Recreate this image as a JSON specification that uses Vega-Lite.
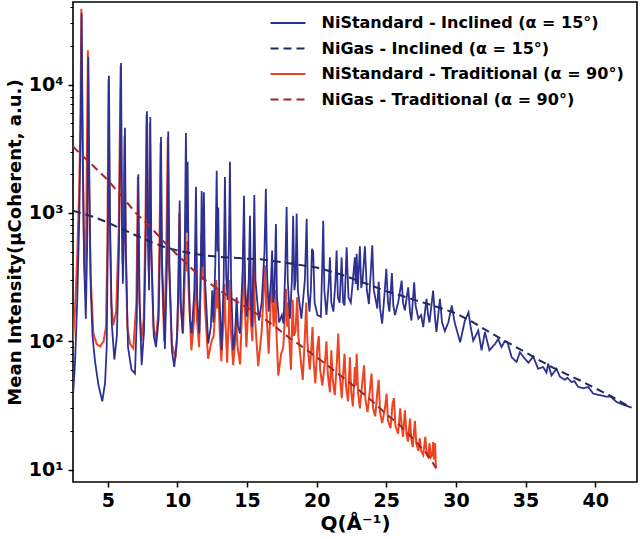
{
"$schema":"https://vega.github.io/schema/vega-lite/v6.json",
"width":564,"height":480,"autosize":"none",
"padding":{"left":73,"top":2,"right":3,"bottom":57},
"background":"white",
"config":{
"view":{"stroke":"black","strokeWidth":1.6},
"font":"DejaVu Sans",
"axis":{"grid":false,"domain":false,"tickColor":"black","labelColor":"black","titleColor":"black","labelFont":"DejaVu Sans","labelFontWeight":"bold","labelFontSize":19,"titleFont":"DejaVu Sans","titleFontWeight":"bold","titleFontSize":19},
"legend":{"orient":"none","legendX":207,"legendY":13,"padding":0,"symbolSize":100,"symbolStrokeWidth":2,"labelFont":"DejaVu Sans","labelFontSize":16,"labelFontWeight":"bold","labelColor":"black","labelOffset":25.5,"rowPadding":9.5,"labelLimit":500}
},
"datasets":{"main":[
{"s":"a","q":2.5,"v":37},{"s":"a","q":2.65,"v":70},{"s":"a","q":2.8,"v":200},{"s":"a","q":2.95,"v":900},{"s":"a","q":3.05,"v":5000},{"s":"a","q":3.12,"v":36000},{"s":"a","q":3.2,"v":3000},{"s":"a","q":3.3,"v":400},{"s":"a","q":3.42,"v":150},{"s":"a","q":3.52,"v":600},{"s":"a","q":3.6,"v":16500},{"s":"a","q":3.68,"v":1500},{"s":"a","q":3.78,"v":250},{"s":"a","q":3.9,"v":110},{"s":"a","q":4.08,"v":70},{"s":"a","q":4.32,"v":46},{"s":"a","q":4.6,"v":34},{"s":"a","q":4.8,"v":47},{"s":"a","q":4.92,"v":90},{"s":"a","q":5.0,"v":600},{"s":"a","q":5.08,"v":11700},{"s":"a","q":5.16,"v":900},{"s":"a","q":5.28,"v":140},{"s":"a","q":5.47,"v":72},{"s":"a","q":5.65,"v":110},{"s":"a","q":5.8,"v":500},{"s":"a","q":5.95,"v":14700},{"s":"a","q":6.02,"v":900},{"s":"a","q":6.08,"v":280},{"s":"a","q":6.15,"v":600},{"s":"a","q":6.23,"v":4600},{"s":"a","q":6.3,"v":500},{"s":"a","q":6.45,"v":90},{"s":"a","q":6.7,"v":60},{"s":"a","q":6.95,"v":56},{"s":"a","q":7.08,"v":150},{"s":"a","q":7.19,"v":2000},{"s":"a","q":7.28,"v":200},{"s":"a","q":7.43,"v":65},{"s":"a","q":7.6,"v":120},{"s":"a","q":7.73,"v":700},{"s":"a","q":7.81,"v":6200},{"s":"a","q":7.9,"v":600},{"s":"a","q":7.96,"v":250},{"s":"a","q":8.0,"v":600},{"s":"a","q":8.05,"v":5600},{"s":"a","q":8.13,"v":500},{"s":"a","q":8.3,"v":110},{"s":"a","q":8.46,"v":90},{"s":"a","q":8.65,"v":150},{"s":"a","q":8.75,"v":600},{"s":"a","q":8.82,"v":3900},{"s":"a","q":8.9,"v":400},{"s":"a","q":9.1,"v":87},{"s":"a","q":9.25,"v":400},{"s":"a","q":9.34,"v":4300},{"s":"a","q":9.42,"v":400},{"s":"a","q":9.6,"v":85},{"s":"a","q":9.77,"v":63},{"s":"a","q":9.95,"v":100},{"s":"a","q":10.08,"v":300},{"s":"a","q":10.16,"v":1250},{"s":"a","q":10.24,"v":200},{"s":"a","q":10.37,"v":115},{"s":"a","q":10.52,"v":500},{"s":"a","q":10.61,"v":4200},{"s":"a","q":10.67,"v":700},{"s":"a","q":10.73,"v":2500},{"s":"a","q":10.8,"v":400},{"s":"a","q":10.9,"v":150},{"s":"a","q":11.02,"v":115},{"s":"a","q":11.22,"v":250},{"s":"a","q":11.33,"v":1600},{"s":"a","q":11.42,"v":220},{"s":"a","q":11.57,"v":115},{"s":"a","q":11.68,"v":400},{"s":"a","q":11.74,"v":1480},{"s":"a","q":11.8,"v":380},{"s":"a","q":11.86,"v":600},{"s":"a","q":11.9,"v":1450},{"s":"a","q":11.98,"v":300},{"s":"a","q":12.21,"v":96},{"s":"a","q":12.4,"v":130},{"s":"a","q":12.5,"v":250},{"s":"a","q":12.58,"v":140},{"s":"a","q":12.72,"v":400},{"s":"a","q":12.82,"v":2130},{"s":"a","q":12.88,"v":500},{"s":"a","q":12.93,"v":1100},{"s":"a","q":13.0,"v":250},{"s":"a","q":13.17,"v":85},{"s":"a","q":13.32,"v":300},{"s":"a","q":13.41,"v":1900},{"s":"a","q":13.5,"v":320},{"s":"a","q":13.6,"v":210},{"s":"a","q":13.7,"v":600},{"s":"a","q":13.77,"v":2500},{"s":"a","q":13.85,"v":300},{"s":"a","q":14.0,"v":85},{"s":"a","q":14.15,"v":120},{"s":"a","q":14.25,"v":220},{"s":"a","q":14.35,"v":130},{"s":"a","q":14.49,"v":115},{"s":"a","q":14.68,"v":350},{"s":"a","q":14.78,"v":1360},{"s":"a","q":14.86,"v":280},{"s":"a","q":14.97,"v":155},{"s":"a","q":15.12,"v":300},{"s":"a","q":15.21,"v":950},{"s":"a","q":15.29,"v":200},{"s":"a","q":15.37,"v":130},{"s":"a","q":15.45,"v":400},{"s":"a","q":15.52,"v":1380},{"s":"a","q":15.6,"v":300},{"s":"a","q":15.85,"v":145},{"s":"a","q":16.05,"v":200},{"s":"a","q":16.25,"v":500},{"s":"a","q":16.35,"v":1540},{"s":"a","q":16.43,"v":350},{"s":"a","q":16.55,"v":170},{"s":"a","q":16.72,"v":300},{"s":"a","q":16.8,"v":510},{"s":"a","q":16.88,"v":200},{"s":"a","q":16.97,"v":250},{"s":"a","q":17.07,"v":820},{"s":"a","q":17.15,"v":220},{"s":"a","q":17.3,"v":140},{"s":"a","q":17.5,"v":160},{"s":"a","q":17.62,"v":137},{"s":"a","q":17.75,"v":400},{"s":"a","q":17.84,"v":1110},{"s":"a","q":17.92,"v":300},{"s":"a","q":18.08,"v":150},{"s":"a","q":18.22,"v":300},{"s":"a","q":18.31,"v":950},{"s":"a","q":18.4,"v":250},{"s":"a","q":18.48,"v":300},{"s":"a","q":18.56,"v":990},{"s":"a","q":18.65,"v":250},{"s":"a","q":18.9,"v":150},{"s":"a","q":19.15,"v":300},{"s":"a","q":19.28,"v":900},{"s":"a","q":19.36,"v":250},{"s":"a","q":19.48,"v":170},{"s":"a","q":19.58,"v":250},{"s":"a","q":19.66,"v":525},{"s":"a","q":19.75,"v":500},{"s":"a","q":19.85,"v":200},{"s":"a","q":20.05,"v":160},{"s":"a","q":20.3,"v":155},{"s":"a","q":20.4,"v":400},{"s":"a","q":20.47,"v":870},{"s":"a","q":20.55,"v":250},{"s":"a","q":20.7,"v":160},{"s":"a","q":20.88,"v":300},{"s":"a","q":20.95,"v":450},{"s":"a","q":21.05,"v":200},{"s":"a","q":21.2,"v":170},{"s":"a","q":21.35,"v":300},{"s":"a","q":21.43,"v":510},{"s":"a","q":21.52,"v":220},{"s":"a","q":21.65,"v":200},{"s":"a","q":21.79,"v":450},{"s":"a","q":21.9,"v":200},{"s":"a","q":22.0,"v":190},{"s":"a","q":22.15,"v":540},{"s":"a","q":22.28,"v":220},{"s":"a","q":22.45,"v":200},{"s":"a","q":22.6,"v":300},{"s":"a","q":22.74,"v":450},{"s":"a","q":22.8,"v":280},{"s":"a","q":22.87,"v":480},{"s":"a","q":22.95,"v":250},{"s":"a","q":23.1,"v":550},{"s":"a","q":23.2,"v":260},{"s":"a","q":23.3,"v":300},{"s":"a","q":23.46,"v":550},{"s":"a","q":23.6,"v":250},{"s":"a","q":23.75,"v":195},{"s":"a","q":23.99,"v":560},{"s":"a","q":24.1,"v":250},{"s":"a","q":24.2,"v":220},{"s":"a","q":24.35,"v":180},{"s":"a","q":24.45,"v":290},{"s":"a","q":24.55,"v":180},{"s":"a","q":24.7,"v":137},{"s":"a","q":24.85,"v":220},{"s":"a","q":25.0,"v":366},{"s":"a","q":25.12,"v":200},{"s":"a","q":25.22,"v":170},{"s":"a","q":25.4,"v":340},{"s":"a","q":25.5,"v":190},{"s":"a","q":25.62,"v":160},{"s":"a","q":25.85,"v":200},{"s":"a","q":26.1,"v":297},{"s":"a","q":26.2,"v":200},{"s":"a","q":26.33,"v":174},{"s":"a","q":26.57,"v":263},{"s":"a","q":26.7,"v":170},{"s":"a","q":26.8,"v":145},{"s":"a","q":27.0,"v":288},{"s":"a","q":27.1,"v":190},{"s":"a","q":27.3,"v":150},{"s":"a","q":27.5,"v":160},{"s":"a","q":27.65,"v":129},{"s":"a","q":27.88,"v":214},{"s":"a","q":28.0,"v":160},{"s":"a","q":28.1,"v":140},{"s":"a","q":28.36,"v":248},{"s":"a","q":28.5,"v":150},{"s":"a","q":28.6,"v":118},{"s":"a","q":28.85,"v":214},{"s":"a","q":29.0,"v":140},{"s":"a","q":29.2,"v":120},{"s":"a","q":29.45,"v":140},{"s":"a","q":29.7,"v":190},{"s":"a","q":29.9,"v":141},{"s":"a","q":30.3,"v":98},{"s":"a","q":30.64,"v":145},{"s":"a","q":30.9,"v":168},{"s":"a","q":31.05,"v":130},{"s":"a","q":31.24,"v":101},{"s":"a","q":31.6,"v":121},{"s":"a","q":31.84,"v":85},{"s":"a","q":32.08,"v":118},{"s":"a","q":32.4,"v":85},{"s":"a","q":32.8,"v":95},{"s":"a","q":33.03,"v":104},{"s":"a","q":33.27,"v":90},{"s":"a","q":33.5,"v":100},{"s":"a","q":33.7,"v":98},{"s":"a","q":34.0,"v":75},{"s":"a","q":34.35,"v":69},{"s":"a","q":34.59,"v":82},{"s":"a","q":34.95,"v":73},{"s":"a","q":35.2,"v":68},{"s":"a","q":35.55,"v":76},{"s":"a","q":35.9,"v":61},{"s":"a","q":36.26,"v":63},{"s":"a","q":36.5,"v":57},{"s":"a","q":36.62,"v":67},{"s":"a","q":36.86,"v":54},{"s":"a","q":37.22,"v":61},{"s":"a","q":37.46,"v":53},{"s":"a","q":37.82,"v":50},{"s":"a","q":38.0,"v":52},{"s":"a","q":38.3,"v":48},{"s":"a","q":38.5,"v":49},{"s":"a","q":38.78,"v":44},{"s":"a","q":39.14,"v":43},{"s":"a","q":39.5,"v":44},{"s":"a","q":39.86,"v":39},{"s":"a","q":40.34,"v":38},{"s":"a","q":40.82,"v":37},{"s":"a","q":41.1,"v":37},{"s":"a","q":41.54,"v":33.6},{"s":"a","q":42.02,"v":32},{"s":"a","q":42.6,"v":30.4},
{"s":"c","q":2.5,"v":100},{"s":"c","q":2.65,"v":180},{"s":"c","q":2.8,"v":450},{"s":"c","q":2.95,"v":1600},{"s":"c","q":3.04,"v":6000},{"s":"c","q":3.1,"v":39000},{"s":"c","q":3.18,"v":4000},{"s":"c","q":3.27,"v":700},{"s":"c","q":3.36,"v":320},{"s":"c","q":3.45,"v":800},{"s":"c","q":3.57,"v":18500},{"s":"c","q":3.65,"v":2000},{"s":"c","q":3.75,"v":350},{"s":"c","q":3.96,"v":115},{"s":"c","q":4.2,"v":95},{"s":"c","q":4.44,"v":91},{"s":"c","q":4.7,"v":100},{"s":"c","q":4.87,"v":130},{"s":"c","q":4.97,"v":600},{"s":"c","q":5.05,"v":11000},{"s":"c","q":5.12,"v":1000},{"s":"c","q":5.25,"v":200},{"s":"c","q":5.39,"v":133},{"s":"c","q":5.6,"v":170},{"s":"c","q":5.78,"v":700},{"s":"c","q":5.92,"v":14000},{"s":"c","q":5.99,"v":1200},{"s":"c","q":6.06,"v":400},{"s":"c","q":6.12,"v":700},{"s":"c","q":6.2,"v":4000},{"s":"c","q":6.27,"v":600},{"s":"c","q":6.4,"v":130},{"s":"c","q":6.6,"v":95},{"s":"c","q":6.83,"v":88},{"s":"c","q":7.05,"v":200},{"s":"c","q":7.16,"v":1900},{"s":"c","q":7.25,"v":250},{"s":"c","q":7.4,"v":100},{"s":"c","q":7.58,"v":150},{"s":"c","q":7.7,"v":800},{"s":"c","q":7.78,"v":5800},{"s":"c","q":7.87,"v":700},{"s":"c","q":7.94,"v":350},{"s":"c","q":7.98,"v":700},{"s":"c","q":8.02,"v":5000},{"s":"c","q":8.1,"v":600},{"s":"c","q":8.28,"v":130},{"s":"c","q":8.46,"v":100},{"s":"c","q":8.62,"v":170},{"s":"c","q":8.72,"v":700},{"s":"c","q":8.79,"v":3500},{"s":"c","q":8.87,"v":400},{"s":"c","q":9.05,"v":100},{"s":"c","q":9.2,"v":500},{"s":"c","q":9.31,"v":3900},{"s":"c","q":9.39,"v":400},{"s":"c","q":9.6,"v":95},{"s":"c","q":9.87,"v":74},{"s":"c","q":10.02,"v":130},{"s":"c","q":10.13,"v":1000},{"s":"c","q":10.21,"v":200},{"s":"c","q":10.4,"v":115},{"s":"c","q":10.52,"v":300},{"s":"c","q":10.58,"v":700},{"s":"c","q":10.65,"v":350},{"s":"c","q":10.72,"v":600},{"s":"c","q":10.8,"v":250},{"s":"c","q":11.0,"v":85},{"s":"c","q":11.2,"v":150},{"s":"c","q":11.3,"v":500},{"s":"c","q":11.4,"v":150},{"s":"c","q":11.55,"v":90},{"s":"c","q":11.66,"v":250},{"s":"c","q":11.72,"v":700},{"s":"c","q":11.8,"v":300},{"s":"c","q":11.88,"v":600},{"s":"c","q":11.96,"v":200},{"s":"c","q":12.2,"v":73},{"s":"c","q":12.45,"v":100},{"s":"c","q":12.6,"v":110},{"s":"c","q":12.72,"v":180},{"s":"c","q":12.79,"v":300},{"s":"c","q":12.86,"v":180},{"s":"c","q":12.95,"v":260},{"s":"c","q":13.03,"v":120},{"s":"c","q":13.15,"v":70},{"s":"c","q":13.3,"v":140},{"s":"c","q":13.38,"v":280},{"s":"c","q":13.46,"v":130},{"s":"c","q":13.57,"v":68},{"s":"c","q":13.68,"v":150},{"s":"c","q":13.74,"v":300},{"s":"c","q":13.82,"v":130},{"s":"c","q":14.0,"v":65},{"s":"c","q":14.15,"v":100},{"s":"c","q":14.22,"v":150},{"s":"c","q":14.32,"v":90},{"s":"c","q":14.5,"v":66},{"s":"c","q":14.66,"v":200},{"s":"c","q":14.75,"v":600},{"s":"c","q":14.83,"v":200},{"s":"c","q":14.95,"v":90},{"s":"c","q":15.1,"v":200},{"s":"c","q":15.18,"v":400},{"s":"c","q":15.26,"v":150},{"s":"c","q":15.38,"v":100},{"s":"c","q":15.45,"v":250},{"s":"c","q":15.49,"v":450},{"s":"c","q":15.57,"v":150},{"s":"c","q":15.8,"v":64},{"s":"c","q":16.05,"v":120},{"s":"c","q":16.2,"v":250},{"s":"c","q":16.3,"v":390},{"s":"c","q":16.38,"v":180},{"s":"c","q":16.55,"v":80},{"s":"c","q":16.7,"v":200},{"s":"c","q":16.8,"v":300},{"s":"c","q":16.9,"v":130},{"s":"c","q":16.98,"v":160},{"s":"c","q":17.04,"v":250},{"s":"c","q":17.12,"v":110},{"s":"c","q":17.24,"v":54},{"s":"c","q":17.45,"v":80},{"s":"c","q":17.6,"v":90},{"s":"c","q":17.72,"v":160},{"s":"c","q":17.8,"v":256},{"s":"c","q":17.88,"v":130},{"s":"c","q":17.95,"v":200},{"s":"c","q":18.02,"v":110},{"s":"c","q":18.15,"v":60},{"s":"c","q":18.22,"v":120},{"s":"c","q":18.28,"v":210},{"s":"c","q":18.36,"v":110},{"s":"c","q":18.48,"v":120},{"s":"c","q":18.6,"v":220},{"s":"c","q":18.68,"v":110},{"s":"c","q":19.0,"v":50},{"s":"c","q":19.15,"v":110},{"s":"c","q":19.25,"v":200},{"s":"c","q":19.33,"v":100},{"s":"c","q":19.5,"v":60},{"s":"c","q":19.62,"v":90},{"s":"c","q":19.7,"v":129},{"s":"c","q":19.78,"v":70},{"s":"c","q":19.9,"v":47},{"s":"c","q":20.05,"v":90},{"s":"c","q":20.15,"v":110},{"s":"c","q":20.25,"v":60},{"s":"c","q":20.4,"v":45},{"s":"c","q":20.6,"v":70},{"s":"c","q":20.7,"v":100},{"s":"c","q":20.8,"v":55},{"s":"c","q":20.95,"v":40},{"s":"c","q":21.05,"v":85},{"s":"c","q":21.15,"v":50},{"s":"c","q":21.3,"v":38},{"s":"c","q":21.45,"v":70},{"s":"c","q":21.55,"v":115},{"s":"c","q":21.65,"v":55},{"s":"c","q":21.8,"v":36},{"s":"c","q":21.92,"v":60},{"s":"c","q":22.0,"v":80},{"s":"c","q":22.1,"v":45},{"s":"c","q":22.25,"v":34},{"s":"c","q":22.38,"v":75},{"s":"c","q":22.48,"v":40},{"s":"c","q":22.6,"v":31},{"s":"c","q":22.74,"v":63},{"s":"c","q":22.8,"v":45},{"s":"c","q":22.87,"v":80},{"s":"c","q":22.97,"v":40},{"s":"c","q":23.1,"v":30},{"s":"c","q":23.25,"v":45},{"s":"c","q":23.4,"v":65},{"s":"c","q":23.5,"v":35},{"s":"c","q":23.65,"v":28},{"s":"c","q":23.8,"v":40},{"s":"c","q":23.94,"v":56},{"s":"c","q":24.05,"v":30},{"s":"c","q":24.2,"v":26},{"s":"c","q":24.35,"v":40},{"s":"c","q":24.45,"v":50},{"s":"c","q":24.55,"v":28},{"s":"c","q":24.7,"v":23},{"s":"c","q":24.9,"v":30},{"s":"c","q":25.02,"v":39},{"s":"c","q":25.12,"v":24},{"s":"c","q":25.3,"v":21},{"s":"c","q":25.45,"v":33},{"s":"c","q":25.55,"v":36},{"s":"c","q":25.65,"v":22},{"s":"c","q":25.85,"v":19},{"s":"c","q":26.0,"v":30},{"s":"c","q":26.1,"v":22},{"s":"c","q":26.2,"v":18},{"s":"c","q":26.33,"v":29},{"s":"c","q":26.45,"v":19},{"s":"c","q":26.55,"v":16.5},{"s":"c","q":26.7,"v":25},{"s":"c","q":26.8,"v":17},{"s":"c","q":26.9,"v":15},{"s":"c","q":27.05,"v":24},{"s":"c","q":27.15,"v":16},{"s":"c","q":27.3,"v":14},{"s":"c","q":27.4,"v":17.5},{"s":"c","q":27.5,"v":14},{"s":"c","q":27.65,"v":13},{"s":"c","q":27.8,"v":18},{"s":"c","q":27.9,"v":13},{"s":"c","q":28.0,"v":12.5},{"s":"c","q":28.1,"v":16},{"s":"c","q":28.2,"v":12.5},{"s":"c","q":28.3,"v":13},{"s":"c","q":28.36,"v":16.4},{"s":"c","q":28.42,"v":12},{"s":"c","q":28.5,"v":16},{"s":"c","q":28.56,"v":10.2},
{"s":"b","q":2.5,"v":1040},{"s":"b","q":3,"v":1000},{"s":"b","q":4,"v":930},{"s":"b","q":5,"v":840},{"s":"b","q":6,"v":750},{"s":"b","q":7,"v":670},{"s":"b","q":8,"v":600},{"s":"b","q":9,"v":545},{"s":"b","q":10,"v":510},{"s":"b","q":11,"v":485},{"s":"b","q":12,"v":465},{"s":"b","q":13,"v":455},{"s":"b","q":14,"v":447},{"s":"b","q":15,"v":440},{"s":"b","q":16,"v":435},{"s":"b","q":17,"v":420},{"s":"b","q":18,"v":405},{"s":"b","q":19,"v":390},{"s":"b","q":20,"v":375},{"s":"b","q":21,"v":350},{"s":"b","q":22,"v":325},{"s":"b","q":23,"v":295},{"s":"b","q":24,"v":270},{"s":"b","q":25,"v":245},{"s":"b","q":26,"v":228},{"s":"b","q":27,"v":210},{"s":"b","q":28,"v":195},{"s":"b","q":29,"v":180},{"s":"b","q":30,"v":165},{"s":"b","q":31,"v":145},{"s":"b","q":32,"v":125},{"s":"b","q":33,"v":108},{"s":"b","q":34,"v":94},{"s":"b","q":35,"v":82},{"s":"b","q":36,"v":71},{"s":"b","q":37,"v":62},{"s":"b","q":38,"v":55},{"s":"b","q":39,"v":49},{"s":"b","q":40,"v":43},{"s":"b","q":41,"v":38},{"s":"b","q":42,"v":33},{"s":"b","q":42.6,"v":30.4},
{"s":"d","q":2.5,"v":3300},{"s":"d","q":3,"v":2900},{"s":"d","q":4,"v":2300},{"s":"d","q":5,"v":1800},{"s":"d","q":6,"v":1350},{"s":"d","q":7,"v":1000},{"s":"d","q":8,"v":790},{"s":"d","q":9,"v":600},{"s":"d","q":10,"v":470},{"s":"d","q":11,"v":370},{"s":"d","q":12,"v":300},{"s":"d","q":13,"v":250},{"s":"d","q":14,"v":212},{"s":"d","q":15,"v":182},{"s":"d","q":16,"v":156},{"s":"d","q":17,"v":130},{"s":"d","q":18,"v":107},{"s":"d","q":19,"v":90},{"s":"d","q":20,"v":75},{"s":"d","q":21,"v":62},{"s":"d","q":22,"v":51},{"s":"d","q":23,"v":42},{"s":"d","q":24,"v":34},{"s":"d","q":25,"v":27},{"s":"d","q":26,"v":22},{"s":"d","q":27,"v":17},{"s":"d","q":28,"v":13},{"s":"d","q":28.56,"v":10.3}
]},
"data":{"name":"main"},
"encoding":{
"x":{"field":"q","type":"quantitative","scale":{"domain":[2.5,43],"nice":false,"zero":false},"axis":{"values":[5,10,15,20,25,30,35,40],"tickSize":5,"tickWidth":1.5,"labelPadding":4,"labelFlush":false,"title":"Q(Å⁻¹)","titleFontSize":20,"titlePadding":3}},
"y":{"field":"v","type":"quantitative","scale":{"type":"log","domain":[8,44000],"nice":false},"axis":{"values":[10,20,30,40,50,60,70,80,90,100,200,300,400,500,600,700,800,900,1000,2000,3000,4000,5000,6000,7000,8000,9000,10000,20000,30000,40000],"labelExpr":"datum.value==10?'10¹':datum.value==100?'10²':datum.value==1000?'10³':datum.value==10000?'10⁴':''","labelOverlap":false,"labelFlush":false,"tickSize":{"condition":{"test":"datum.value==10||datum.value==100||datum.value==1000||datum.value==10000","value":5},"value":3},"tickWidth":{"condition":{"test":"datum.value==10||datum.value==100||datum.value==1000||datum.value==10000","value":1.5},"value":1},"labelPadding":5,"title":"Mean Intensity(μCoherent, a.u.)","titleFontSize":18,"titlePadding":4}},
"color":{"field":"s","type":"nominal","scale":{"domain":["a","b","c","d"],"range":["#2e3191","#1e2a5e","#ef4423","#a0282a"]},"legend":{"title":null,"symbolType":"M-3.5,0H3.5","labelExpr":"datum.value=='a'?'NiStandard - Inclined (α = 15°)':datum.value=='b'?'NiGas - Inclined (α = 15°)':datum.value=='c'?'NiStandard - Traditional (α = 90°)':'NiGas - Traditional (α = 90°)'"}},
"strokeDash":{"field":"s","type":"nominal","scale":{"domain":["a","b","c","d"],"range":[[1,0],[8,5],[1,0],[8,5]]},"legend":{"title":null,"symbolType":"M-3.5,0H3.5","labelExpr":"datum.value=='a'?'NiStandard - Inclined (α = 15°)':datum.value=='b'?'NiGas - Inclined (α = 15°)':datum.value=='c'?'NiStandard - Traditional (α = 90°)':'NiGas - Traditional (α = 90°)'"}}
},
"layer":[
{"transform":[{"filter":"datum.s=='c'"}],"mark":{"type":"line","strokeWidth":2,"clip":true}},
{"transform":[{"filter":"datum.s=='a'"}],"mark":{"type":"line","strokeWidth":1.8,"clip":true}},
{"transform":[{"filter":"datum.s=='b'"}],"mark":{"type":"line","strokeWidth":2,"clip":true}},
{"transform":[{"filter":"datum.s=='d'"}],"mark":{"type":"line","strokeWidth":2,"clip":true}}
]
}
